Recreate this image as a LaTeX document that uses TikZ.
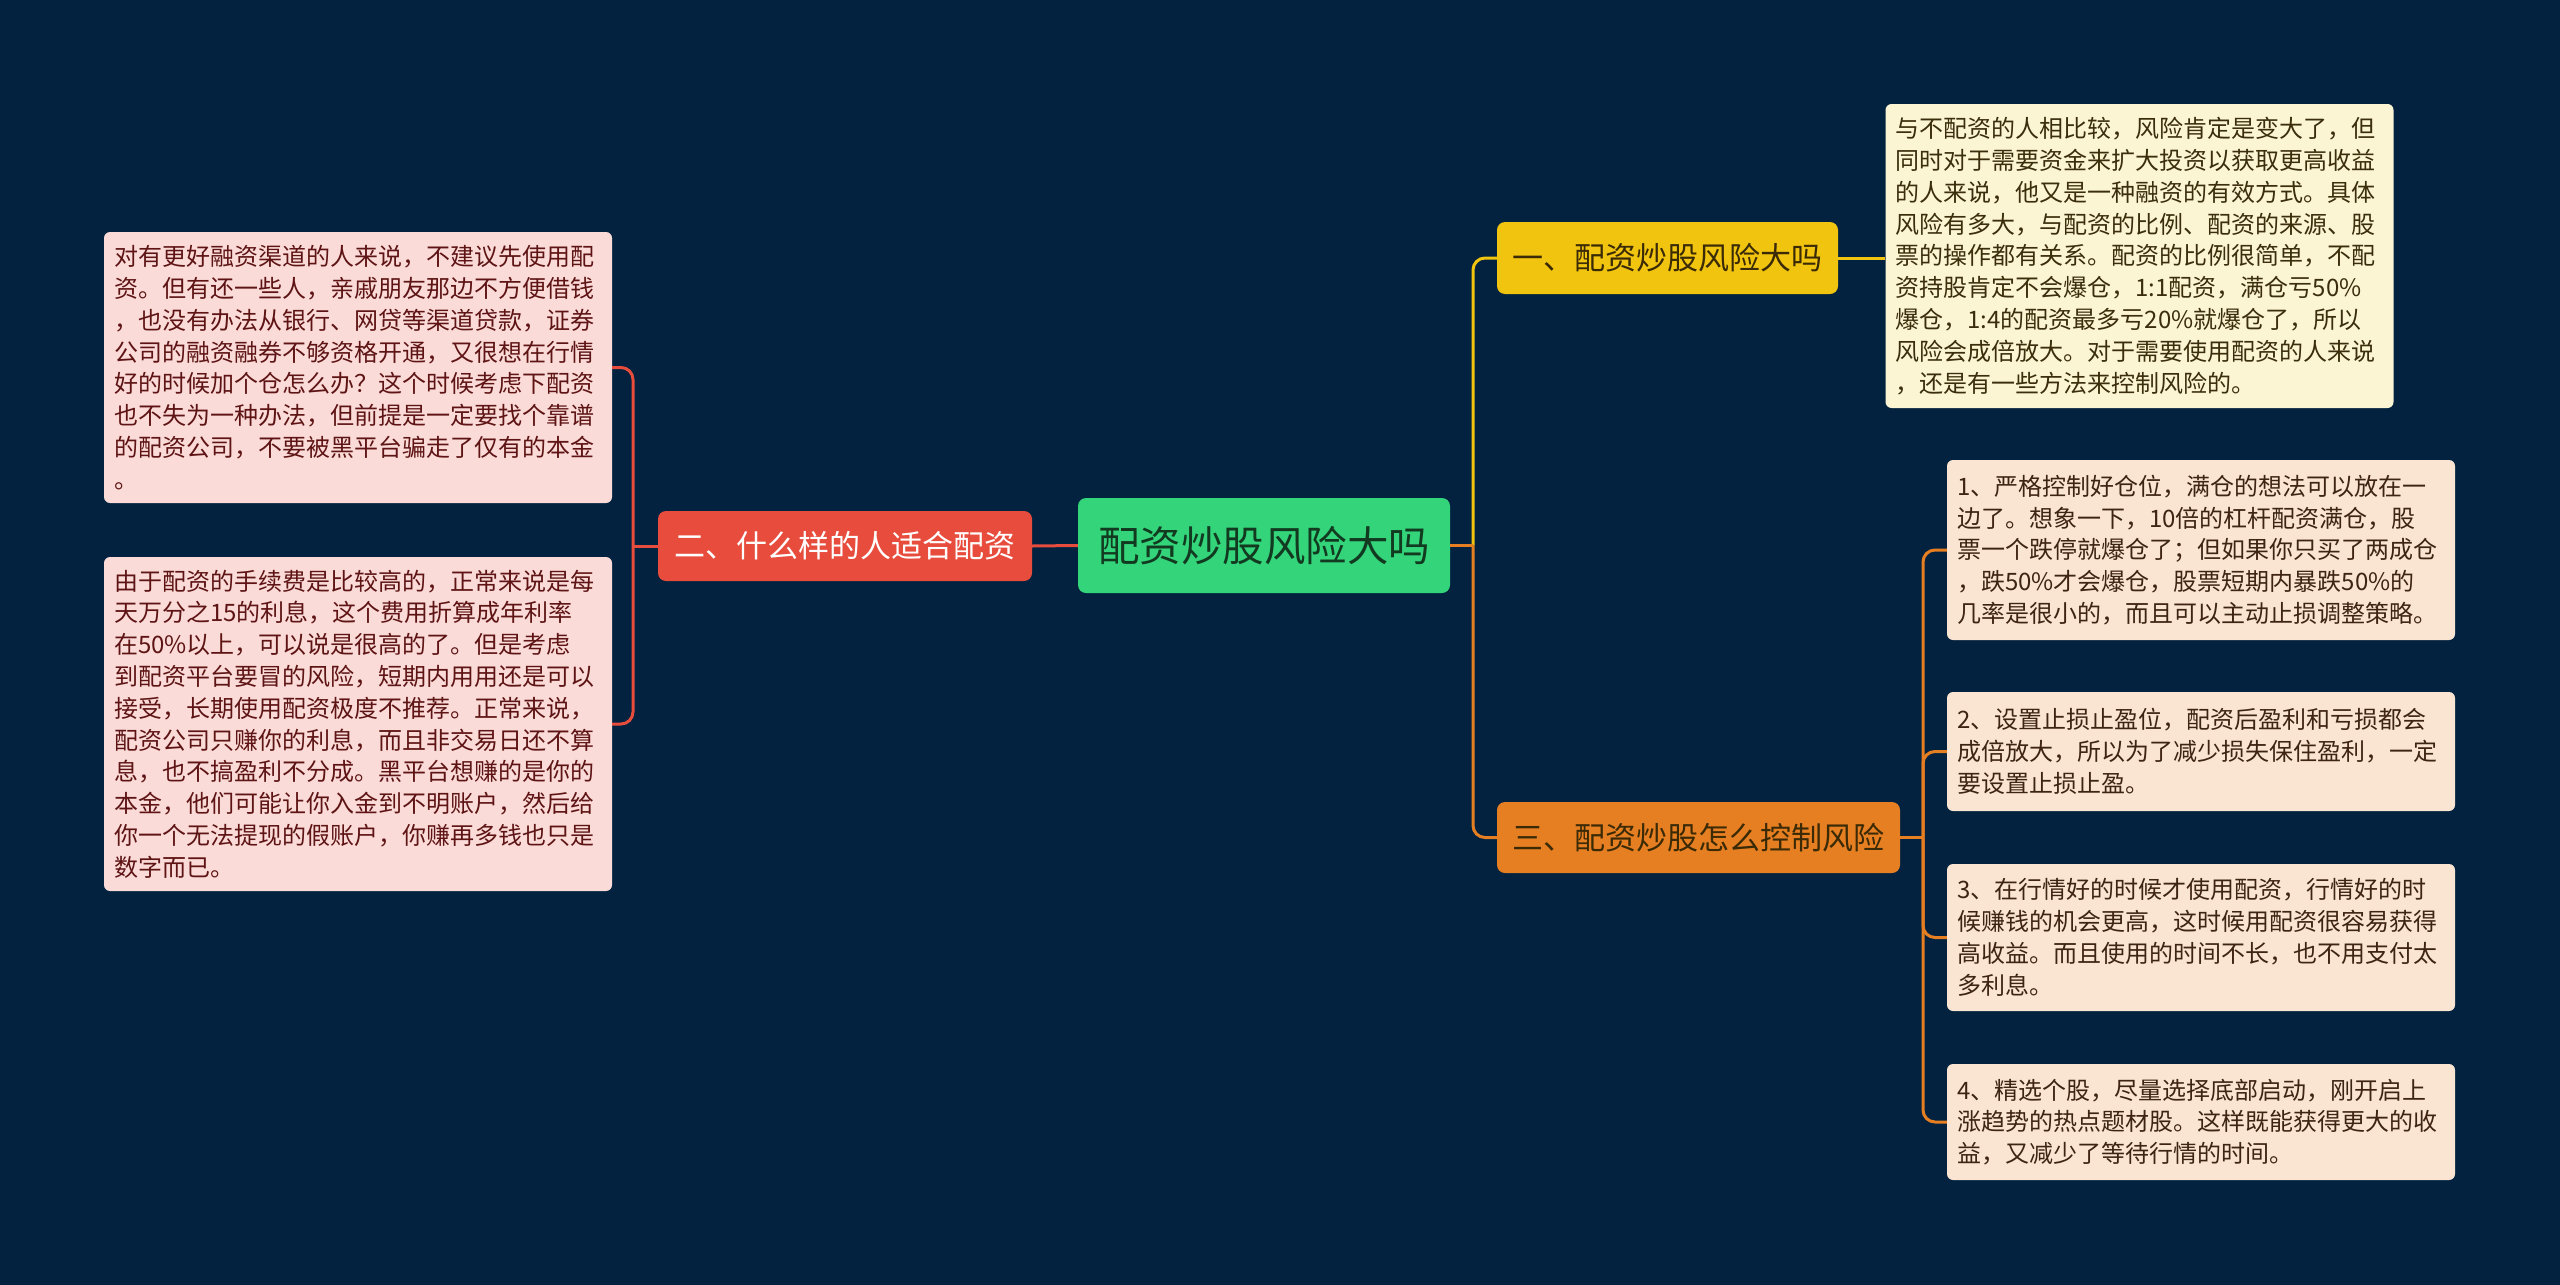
\documentclass[tikz,border=0pt]{standalone}
\usepackage{fontspec}
\setmainfont{Noto Sans CJK SC}
\definecolor{bgnavy}{HTML}{02223F}
\definecolor{rootgreen}{HTML}{33D47A}
\definecolor{rootink}{HTML}{123A20}
\definecolor{redbr}{HTML}{E74C3C}
\definecolor{yellowbr}{HTML}{F1C40F}
\definecolor{orangebr}{HTML}{E67E22}
\definecolor{cream}{HTML}{FCF5D4}
\definecolor{peach}{HTML}{FAE5D3}
\definecolor{pink}{HTML}{FADBD8}
\definecolor{creamink}{HTML}{3A2E0C}
\definecolor{peachink}{HTML}{3E2412}
\definecolor{pinkink}{HTML}{5E1414}
\definecolor{branchink}{HTML}{3A2A06}
\begin{document}
\begin{tikzpicture}[x=1pt, y=-1pt,
    topic/.style={rounded corners=8pt, inner sep=0pt, align=center},
    leaf/.style={rounded corners=6pt, inner xsep=10pt, inner ysep=6pt, text width=488pt, align=left,
        font=\fontsize{24}{31.8}\selectfont},
    link/.style={line width=3pt},
    elbow/.style={line width=3pt, rounded corners=12pt}]
    % Nền
    \fill[bgnavy] (0,0) rectangle (2560,1285);
    \useasboundingbox (0,0) rectangle (2560,1285);

    % Chủ đề trung tâm
    \node[topic, fill=rootgreen, text=rootink, minimum width=372pt, minimum height=95pt,
        font=\fontsize{41.5}{48}\selectfont] (root) at (1264,545.5) {配资炒股风险大吗};

    % Nhánh
    \node[topic, fill=yellowbr, text=branchink, minimum width=341pt, minimum height=72pt,
        font=\fontsize{31}{36}\selectfont] (risk) at (1667.5,258) {一、配资炒股风险大吗};
    \node[topic, fill=redbr, text=white, minimum width=374pt, minimum height=70pt,
        font=\fontsize{31}{36}\selectfont] (who) at (845,546) {二、什么样的人适合配资};
    \node[topic, fill=orangebr, text=branchink, minimum width=403pt, minimum height=71pt,
        font=\fontsize{31}{36}\selectfont] (ctrl) at (1698.5,837.5) {三、配资炒股怎么控制风险};

    % Lá bên phải
    \node[leaf, fill=cream, text=creamink, minimum height=304pt] (riskA) at (2139.5,256) {%
        与不配资的人相比较，风险肯定是变大了，但\\
        同时对于需要资金来扩大投资以获取更高收益\\
        的人来说，他又是一种融资的有效方式。具体\\
        风险有多大，与配资的比例、配资的来源、股\\
        票的操作都有关系。配资的比例很简单，不配\\
        资持股肯定不会爆仓，1:1配资，满仓亏50\%\\
        爆仓，1:4的配资最多亏20\%就爆仓了，所以\\
        风险会成倍放大。对于需要使用配资的人来说\\
        ，还是有一些方法来控制风险的。};
    \node[leaf, fill=peach, text=peachink, minimum height=180pt] (ctrlA) at (2201,550) {%
        1、严格控制好仓位，满仓的想法可以放在一\\
        边了。想象一下，10倍的杠杆配资满仓，股\\
        票一个跌停就爆仓了；但如果你只买了两成仓\\
        ，跌50\%才会爆仓，股票短期内暴跌50\%的\\
        几率是很小的，而且可以主动止损调整策略。};
    \node[leaf, fill=peach, text=peachink, minimum height=119pt] (ctrlB) at (2201,751.5) {%
        2、设置止损止盈位，配资后盈利和亏损都会\\
        成倍放大，所以为了减少损失保住盈利，一定\\
        要设置止损止盈。};
    \node[leaf, fill=peach, text=peachink, minimum height=147pt] (ctrlC) at (2201,937.5) {%
        3、在行情好的时候才使用配资，行情好的时\\
        候赚钱的机会更高，这时候用配资很容易获得\\
        高收益。而且使用的时间不长，也不用支付太\\
        多利息。};
    \node[leaf, fill=peach, text=peachink, minimum height=116pt] (ctrlD) at (2201,1122) {%
        4、精选个股，尽量选择底部启动，刚开启上\\
        涨趋势的热点题材股。这样既能获得更大的收\\
        益，又减少了等待行情的时间。};

    % Lá bên trái
    \node[leaf, fill=pink, text=pinkink, minimum height=271pt] (whoA) at (358,367.5) {%
        对有更好融资渠道的人来说，不建议先使用配\\
        资。但有还一些人，亲戚朋友那边不方便借钱\\
        ，也没有办法从银行、网贷等渠道贷款，证券\\
        公司的融资融券不够资格开通，又很想在行情\\
        好的时候加个仓怎么办？这个时候考虑下配资\\
        也不失为一种办法，但前提是一定要找个靠谱\\
        的配资公司，不要被黑平台骗走了仅有的本金\\
        。};
    \node[leaf, fill=pink, text=pinkink, minimum height=334pt] (whoB) at (358,724) {%
        由于配资的手续费是比较高的，正常来说是每\\
        天万分之15的利息，这个费用折算成年利率\\
        在50\%以上，可以说是很高的了。但是考虑\\
        到配资平台要冒的风险，短期内用用还是可以\\
        接受，长期使用配资极度不推荐。正常来说，\\
        配资公司只赚你的利息，而且非交易日还不算\\
        息，也不搞盈利不分成。黑平台想赚的是你的\\
        本金，他们可能让你入金到不明账户，然后给\\
        你一个无法提现的假账户，你赚再多钱也只是\\
        数字而已。};

    % Điểm rẽ
    \coordinate (rootR) at (1473,545.5);
    \coordinate (rootL) at (633,546);
    \coordinate (ctrlJ) at (1923,837.5);

    % Đường nối
    \draw[elbow, yellowbr] (rootR) |- (risk.west);
    \draw[elbow, orangebr] (rootR) |- (ctrl.west);
    \draw[link, orangebr] (root.east) -- (rootR);
    \draw[link, redbr] (root.west) -- (who.east);
    \draw[link, yellowbr] (risk.east) -- (risk.east -| riskA.west);
    \draw[link, orangebr] (ctrl.east) -- (ctrlJ);
    \foreach \leafname in {ctrlA, ctrlB, ctrlC, ctrlD}
        \draw[elbow, orangebr] (ctrlJ) |- (\leafname.west);
    \draw[link, redbr] (who.west) -- (rootL);
    \foreach \leafname in {whoA, whoB}
        \draw[elbow, redbr] (rootL) |- (\leafname.east);
\end{tikzpicture}
\end{document}
